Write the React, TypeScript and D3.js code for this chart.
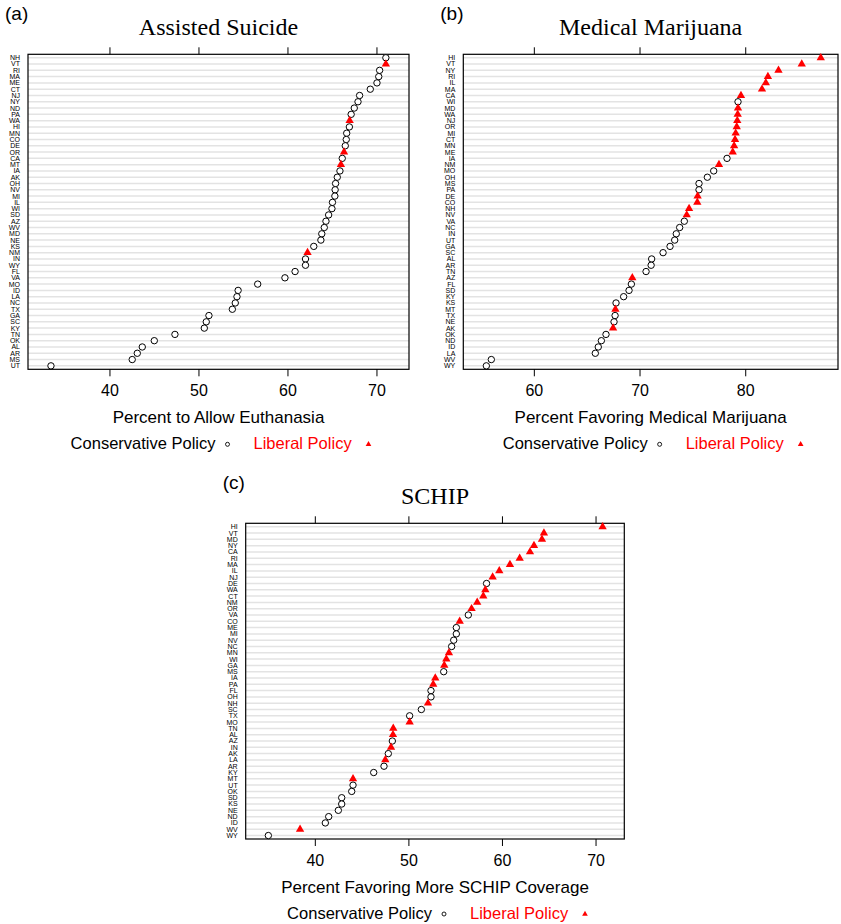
import React from 'react';
import * as d3 from 'd3';

// (a) Assisted suicide
const suicideStates = ['NH', 'VT', 'RI', 'MA', 'ME', 'CT', 'NJ', 'NY', 'ND', 'PA', 'WA', 'HI', 'MN', 'CO', 'DE', 'OR', 'CA', 'MT', 'IA', 'AK', 'OH', 'NV', 'MI', 'IL', 'WI', 'SD', 'AZ', 'WV', 'MD', 'NE', 'KS', 'NM', 'IN', 'WY', 'FL', 'VA', 'MO', 'ID', 'LA', 'NC', 'TX', 'GA', 'SC', 'KY', 'TN', 'OK', 'AL', 'AR', 'MS', 'UT'];
const suicideValues = [71.0, 71.0, 70.3, 70.2, 70.0, 69.25, 68.05, 67.87, 67.45, 67.1, 66.93, 66.9, 66.6, 66.55, 66.44, 66.3, 66.1, 65.95, 65.84, 65.54, 65.35, 65.3, 65.27, 65.0, 64.94, 64.57, 64.27, 64.08, 63.8, 63.7, 62.9, 62.2, 61.97, 61.97, 60.8, 59.66, 56.6, 54.4, 54.27, 54.08, 53.75, 51.12, 50.82, 50.6, 47.3, 44.98, 43.63, 43.07, 42.5, 33.37];
const suicideLiberal = ['VT', 'WA', 'OR', 'MT', 'NM'];

// (b) Medical marijuana
const marijuanaStates = ['HI', 'VT', 'NY', 'RI', 'IL', 'MA', 'CA', 'WI', 'MD', 'WA', 'NJ', 'OR', 'MI', 'CT', 'MN', 'ME', 'IA', 'NM', 'MO', 'OH', 'MS', 'PA', 'DE', 'CO', 'NH', 'NV', 'VA', 'NC', 'IN', 'UT', 'GA', 'SC', 'AL', 'AR', 'TN', 'AZ', 'FL', 'SD', 'KY', 'KS', 'MT', 'TX', 'NE', 'AK', 'OK', 'ND', 'ID', 'LA', 'WV', 'WY'];
const marijuanaValues = [87.1, 85.3, 83.1, 82.1, 81.9, 81.54, 79.55, 79.27, 79.27, 79.24, 79.2, 79.15, 79.05, 78.99, 78.9, 78.77, 78.23, 77.47, 76.97, 76.37, 75.58, 75.58, 75.45, 75.42, 74.64, 74.42, 74.19, 73.75, 73.43, 73.28, 72.84, 72.18, 71.1, 71.05, 70.57, 69.27, 69.18, 68.96, 68.45, 67.73, 67.67, 67.64, 67.54, 67.45, 66.78, 66.34, 66.05, 65.77, 55.93, 55.46];
const marijuanaLiberal = ['HI', 'VT', 'NY', 'RI', 'IL', 'MA', 'CA', 'MD', 'WA', 'NJ', 'OR', 'MI', 'CT', 'MN', 'ME', 'NM', 'DE', 'CO', 'NH', 'NV', 'AZ', 'MT', 'AK'];

// (c) SCHIP
const schipStates = ['HI', 'VT', 'MD', 'NY', 'CA', 'RI', 'MA', 'IL', 'NJ', 'DE', 'WA', 'CT', 'NM', 'OR', 'VA', 'CO', 'ME', 'MI', 'NV', 'NC', 'MN', 'WI', 'GA', 'MS', 'IA', 'PA', 'FL', 'OH', 'NH', 'SC', 'TX', 'MO', 'TN', 'AL', 'AZ', 'IN', 'AK', 'LA', 'AR', 'KY', 'MT', 'UT', 'OK', 'SD', 'KS', 'NE', 'ND', 'ID', 'WV', 'WY'];
const schipValues = [70.7, 64.43, 64.22, 63.37, 62.94, 61.84, 60.8, 59.66, 58.95, 58.3, 58.17, 57.95, 57.3, 56.7, 56.35, 55.43, 55.07, 55.07, 54.79, 54.57, 54.28, 54.0, 53.78, 53.72, 52.82, 52.6, 52.36, 52.36, 52.04, 51.33, 50.08, 50.08, 48.33, 48.3, 48.23, 48.09, 47.8, 47.48, 47.34, 46.24, 44.03, 44.03, 43.89, 42.82, 42.82, 42.46, 41.43, 41.07, 38.37, 34.98];
const schipLiberal = ['HI', 'VT', 'MD', 'NY', 'CA', 'RI', 'MA', 'IL', 'NJ', 'WA', 'CT', 'NM', 'OR', 'CO', 'MN', 'WI', 'GA', 'IA', 'PA', 'NH', 'MO', 'TN', 'AL', 'IN', 'LA', 'MT', 'WV'];

const RED = '#ff0000';
const SANS = "'Liberation Sans', Arial, sans-serif";
const SERIF = "'Liberation Serif', 'Times New Roman', serif";

const triangle = d3.symbol().type(d3.symbolTriangle);

function DotPanel({ tag, title, xTitle, states, values, liberal, box, domain, ticks }) {
  const x = d3.scaleLinear().domain(domain).range([box.x0, box.x1]);
  const y = d3.scalePoint().domain(states).range([box.y0, box.y1]).padding(0.55);
  const cx = (box.x0 + box.x1) / 2;
  const libSet = new Set(liberal);
  const legY = box.y1 + 74;

  return (
    <g>
      <text x={box.x0 - 23} y={box.y0 - 34} fontFamily={SANS} fontSize={19}>{tag}</text>
      <text x={cx} y={box.y0 - 19} textAnchor="middle" fontFamily={SERIF} fontSize={24}>{title}</text>

      {states.map(s => (
        <line key={'g' + s} x1={box.x0} x2={box.x1} y1={y(s)} y2={y(s)} stroke="#e3e3e3" strokeWidth={1.5} />
      ))}

      {states.map(s => (
        <text key={'l' + s} x={box.x0 - 8} y={y(s)} dy="0.35em" textAnchor="end" fontFamily={SANS} fontSize={7}>{s}</text>
      ))}

      <rect x={box.x0} y={box.y0} width={box.x1 - box.x0} height={box.y1 - box.y0} fill="none" stroke="#000" strokeWidth={1.2} />

      {ticks.map(t => (
        <g key={'t' + t}>
          <line x1={x(t)} x2={x(t)} y1={box.y0} y2={box.y0 - 7} stroke="#000" />
          <line x1={x(t)} x2={x(t)} y1={box.y1} y2={box.y1 + 7} stroke="#000" />
          <text x={x(t)} y={box.y1 + 21} dy="0.35em" textAnchor="middle" fontFamily={SANS} fontSize={16}>{t}</text>
        </g>
      ))}

      {states.map((s, i) => libSet.has(s) ? (
        <path key={'p' + s} d={triangle.size(30)()} transform={`translate(${x(values[i])},${y(s)})`} fill={RED} />
      ) : (
        <circle key={'p' + s} cx={x(values[i])} cy={y(s)} r={3.2} fill="#fff" stroke="#000" strokeWidth={1} />
      ))}

      <text x={cx} y={box.y1 + 48} dy="0.35em" textAnchor="middle" fontFamily={SANS} fontSize={17}>{xTitle}</text>

      <text x={cx - 3} y={legY} dy="0.35em" textAnchor="end" fontFamily={SANS} fontSize={16.5}>Conservative Policy</text>
      <circle cx={cx + 9} cy={legY + 1} r={2} fill="none" stroke="#000" strokeWidth={0.9} />
      <text x={cx + 35} y={legY} dy="0.35em" fontFamily={SANS} fontSize={16.5} fill={RED}>Liberal Policy</text>
      <path d={triangle.size(14)()} transform={`translate(${cx + 150},${legY + 1})`} fill={RED} />
    </g>
  );
}

export default function App() {
  return (
    <svg width={841} height={924} style={{ position: 'absolute', left: 0, top: 0, display: 'block', background: '#fff' }}>
      <DotPanel
        tag="(a)" title="Assisted Suicide" xTitle="Percent to Allow Euthanasia"
        states={suicideStates} values={suicideValues} liberal={suicideLiberal}
        box={{ x0: 28, x1: 409, y0: 54.3, y1: 369.3 }} domain={[30.79, 73.6]} ticks={[40, 50, 60, 70]}
      />
      <DotPanel
        tag="(b)" title="Medical Marijuana" xTitle="Percent Favoring Medical Marijuana"
        states={marijuanaStates} values={marijuanaValues} liberal={marijuanaLiberal}
        box={{ x0: 463.3, x1: 838, y0: 54.3, y1: 369.3 }} domain={[53.28, 88.73]} ticks={[60, 70, 80]}
      />
      <DotPanel
        tag="(c)" title="SCHIP" xTitle="Percent Favoring More SCHIP Coverage"
        states={schipStates} values={schipValues} liberal={schipLiberal}
        box={{ x0: 245.7, x1: 624.3, y0: 523.3, y1: 839 }} domain={[32.56, 73.02]} ticks={[40, 50, 60, 70]}
      />
    </svg>
  );
}
